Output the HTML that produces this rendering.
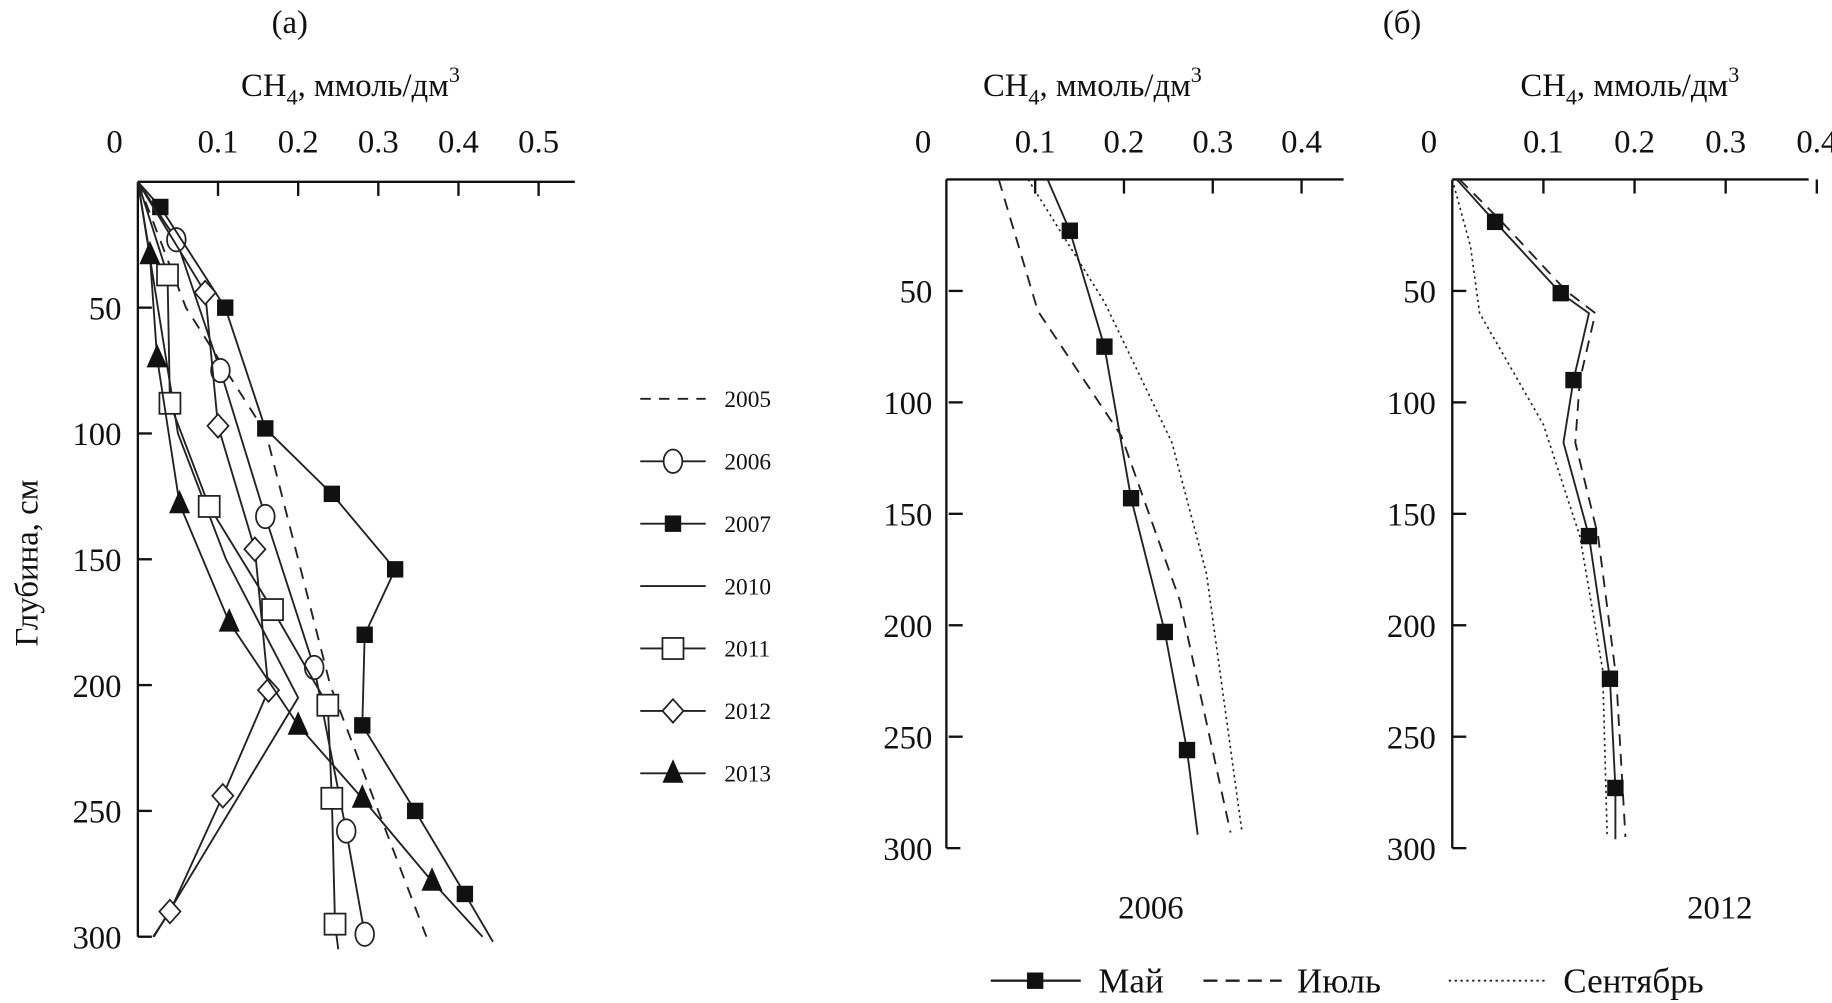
<!DOCTYPE html>
<html><head><meta charset="utf-8"><style>
html,body{margin:0;padding:0;background:#fff;}
svg{display:block;}
text{font-family:"Liberation Serif",serif;fill:#111;}
</style></head><body>
<svg id="c" width="1832" height="1003" viewBox="0 0 1568 855" preserveAspectRatio="none" xmlns="http://www.w3.org/2000/svg"></svg>
<script>
// ---- Panel (a) data: [CH4 mmol/dm3, depth cm]
const yearsA = ["2005","2006","2007","2010","2011","2012","2013"];
const s2005 = [[0,0],[0.06,50],[0.16,100],[0.2,150],[0.24,200],[0.3,250],[0.36,300]];
const s2006 = [[0,0],[0.048,23],[0.103,75],[0.159,133],[0.22,193],[0.26,258],[0.283,299]];
const s2007 = [[0,0],[0.028,10],[0.109,50],[0.159,98],[0.242,124],[0.321,154],[0.283,180],[0.28,216],[0.346,250],[0.408,283],[0.443,302]];
const s2010 = [[0,0],[0.025,50],[0.05,100],[0.11,150],[0.2,205],[0.02,300]];
const s2011 = [[0,0],[0.037,37],[0.04,88],[0.089,129],[0.168,170],[0.237,208],[0.242,245],[0.246,295],[0.25,305]];
const s2012 = [[0,0],[0.084,44],[0.1,97],[0.146,146],[0.163,202],[0.106,244],[0.04,290],[0.019,300]];
const s2013 = [[0,0],[0.015,29],[0.024,70],[0.052,128],[0.114,175],[0.2,216],[0.28,245],[0.367,278],[0.43,300]];
// ---- Panel (б) data
const may2006 = [[0.114,0],[0.139,23],[0.178,75],[0.208,143],[0.246,203],[0.271,256],[0.283,294]];
const jul2006 = [[0.059,0],[0.103,59],[0.197,115],[0.263,189],[0.32,293]];
const sep2006 = [[0.092,0],[0.178,55],[0.254,118],[0.293,177],[0.333,293]];
const may2012 = [[0.005,0],[0.047,19],[0.119,51],[0.15,60],[0.133,90],[0.122,118],[0.15,160],[0.173,224],[0.179,273],[0.179,296]];
const jul2012 = [[0.008,0],[0.052,18],[0.125,50],[0.157,60],[0.14,90],[0.135,118],[0.16,160],[0.18,224],[0.19,295]];
const sep2012 = [[0,0],[0.02,30],[0.03,60],[0.1,110],[0.14,160],[0.165,220],[0.17,295]];
const xTicksA = ["0","0.1","0.2","0.3","0.4","0.5"];
const xTicksB = ["0","0.1","0.2","0.3","0.4"];
const yTicks = ["50","100","150","200","250","300"];

const svg = document.getElementById('c');
const NS = "http://www.w3.org/2000/svg";
function el(tag, attrs, parent){const e=document.createElementNS(NS,tag);for(const k in attrs)e.setAttribute(k,attrs[k]);(parent||svg).appendChild(e);return e;}
function txt(x,y,s,size,anchor){const t=el('text',{x:x,y:y,'font-size':size,'text-anchor':anchor||'middle'});t.textContent=s;return t;}

function axis(x0,y0,sx,sy,xEnd,name){
  const ax={x:v=>x0+v*sx,y:d=>y0+d*sy};
  const g=el('g',{});
  
  
  el('line',{x1:x0,y1:y0,x2:xEnd,y2:y0,stroke:'#111','stroke-width':2},g);
  el('line',{x1:x0,y1:y0,x2:x0,y2:ax.y(300),stroke:'#111','stroke-width':2},g);
  el('line',{x1:x0,y1:ax.y(300),x2:x0+12,y2:ax.y(300),stroke:'#111','stroke-width':2},g);
  return ax;
}
function xTicks(ax,labels,y0,name){
  labels.forEach((l,i)=>{const v=i*0.1;const X=ax.x(v);
    if(i>0){el('line',{x1:X,y1:y0,x2:X,y2:y0+12,stroke:'#111','stroke-width':2});}
    const t=txt(X-(i==0?20:0),130,l,28);
    
    
  });
}
function yTicksDraw(ax,x0,name){
  yTicks.forEach(l=>{const d=+l;const Y=ax.y(d);
    if(d<300) el('line',{x1:x0,y1:Y,x2:x0+12,y2:Y,stroke:'#111','stroke-width':2});
    const t=txt(x0-14,Y+10,l,28,'end');
    
    
  });
}
// markerIdx: indices of points that carry markers
function series(ax,data,dash,marker,name,w,markerIdx){
  const pts=data.map(p=>ax.x(p[0])+','+ax.y(p[1])).join(' ');
  const pl=el('polyline',{points:pts,fill:'none',stroke:'#222','stroke-width':w||1.6,'stroke-dasharray':dash||'none'});
  
  
  if(!marker)return;
  data.forEach((p,i)=>{
    if(markerIdx){ if(markerIdx.indexOf(i)<0) return; }
    else if(i==0) return;
    drawMarker(ax.x(p[0]),ax.y(p[1]),marker,name);
  });
}
function drawMarker(X,Y,m,name){
  let e;
  if(m==='sq') e=el('rect',{x:X-7,y:Y-7,width:14,height:14,fill:'#111'});
  if(m==='osq') e=el('rect',{x:X-9,y:Y-9,width:18,height:18,fill:'#fff',stroke:'#222','stroke-width':1.5});
  if(m==='circ') e=el('ellipse',{cx:X,cy:Y,rx:8,ry:10,fill:'#fff',stroke:'#222','stroke-width':1.5});
  if(m==='dia') e=el('polygon',{points:`${X},${Y-10} ${X+9},${Y} ${X},${Y+10} ${X-9},${Y}`,fill:'#fff',stroke:'#222','stroke-width':1.5});
  if(m==='tri') e=el('polygon',{points:`${X},${Y-12} ${X+9},${Y+8} ${X-9},${Y+8}`,fill:'#111'});
  
  
}

// Panel (a)
const A=axis(118,155,686,2.145,492,'panel-a');
xTicks(A,xTicksA,155,'panel-a');
yTicksDraw(A,118,'panel-a');
series(A,s2005,'10,8',null,'series-2005');
series(A,s2010,null,null,'series-2010');
series(A,s2006,null,'circ','series-2006');
series(A,s2007,null,'sq','series-2007',1.6,[1,2,3,4,5,6,7,8,9]);
series(A,s2011,null,'osq','series-2011',1.6,[1,2,3,4,5,6,7]);
series(A,s2012,null,'dia','series-2012',1.6,[1,2,3,4,5,6]);
series(A,s2013,null,'tri','series-2013',1.6,[1,2,3,4,5,6,7]);

// Legend (a)
const legM=[null,'circ','sq',null,'osq','dia','tri'];
yearsA.forEach((y,i)=>{const Y=340+i*53.2;
  const g=el('g',{});
  
  
  el('line',{x1:548,y1:Y,x2:604,y2:Y,stroke:'#222','stroke-width':1.6,'stroke-dasharray':i==0?'9,7':'none'},g);
  if(legM[i]) drawMarker(576,Y,legM[i],'legend-'+y);
  txt(620,Y+7,y,20,'start');
});

// Panel (б) left 2006
const B=axis(810,153,760,1.9,1150,'panel-b-2006');
xTicks(B,xTicksB,153,'panel-b-2006');
yTicksDraw(B,812,'panel-b-2006');
series(B,jul2006,'10,7',null,'july-2006');
series(B,sep2006,'2,3',null,'september-2006',1.4);
series(B,may2006,null,'sq','may-2006',1.6,[1,2,3,4,5]);

// Panel (б) right 2012
const C=axis(1243,153,780,1.9,1548,'panel-b-2012');
xTicks(C,xTicksB,153,'panel-b-2012');
yTicksDraw(C,1243,'panel-b-2012');
series(C,jul2012,'10,7',null,'july-2012');
series(C,sep2012,'2,3',null,'september-2012',1.4);
series(C,may2012,null,'sq','may-2012',1.6,[1,2,4,6,7,8]);

// Titles
txt(248,28,'(a)',28);
txt(1200,28,'(б)',28);
[[300,'x-axis-title-a'],[935,'x-axis-title-b1'],[1395,'x-axis-title-b2']].forEach(([x,n])=>{
  const t=el('text',{x:x,y:82,'font-size':28,'text-anchor':'middle'});
  t.innerHTML='CH<tspan font-size="19" dy="7">4</tspan><tspan dy="-7">, ммоль/дм</tspan><tspan font-size="19" dy="-12">3</tspan>';
  
  
});
const yl=el('text',{x:0,y:0,'font-size':28,'text-anchor':'middle',transform:'translate(32,480) rotate(-90)'});
yl.textContent='Глубина, см';


txt(985,783,'2006',28);
txt(1472,783,'2012',28);

// Bottom legend
const lg=el('g',{});


el('line',{x1:848,y1:836,x2:925,y2:836,stroke:'#222','stroke-width':2},lg);
drawMarker(886,836,'sq','legend-may');
txt(940,846,'Май',30,'start');
el('line',{x1:1030,y1:836,x2:1097,y2:836,stroke:'#222','stroke-width':2,'stroke-dasharray':'12,7'},lg);
txt(1110,846,'Июль',30,'start');
el('line',{x1:1240,y1:836,x2:1322,y2:836,stroke:'#222','stroke-width':1.6,'stroke-dasharray':'2,3'},lg);
txt(1338,846,'Сентябрь',30,'start');
</script>
</body></html>
